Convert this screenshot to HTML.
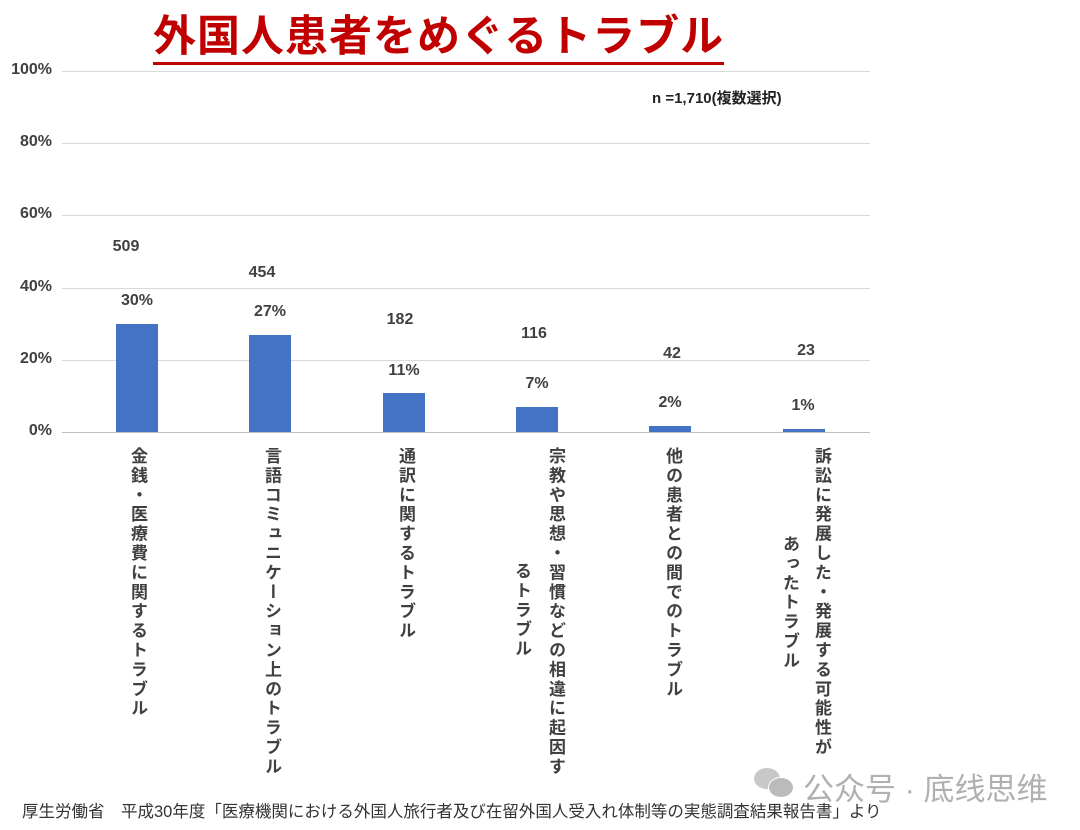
<!DOCTYPE html>
<html><head><meta charset="utf-8"><style>
body{margin:0;width:1080px;height:830px;background:#fff;position:relative;overflow:hidden;font-family:"Liberation Sans","Noto Sans CJK JP",sans-serif;color:#404040}
.a{position:absolute}
.g{position:absolute;left:62px;width:808px;height:1px;background:#d9d9d9}
.y{position:absolute;left:0;width:52px;text-align:right;font-size:16px;font-weight:bold}
.b{position:absolute;width:42px;background:#4472c4}
.n{position:absolute;width:80px;text-align:center;font-size:16px;font-weight:bold}
.v{position:absolute;writing-mode:vertical-rl;font-size:17px;font-weight:bold;letter-spacing:2.4px;line-height:20px;color:#404040}
</style></head><body>
<div class="a" style="left:153px;top:12px;font-size:43px;font-weight:bold;color:#c00000;letter-spacing:1px;border-bottom:3px solid #c00000;line-height:50px;white-space:nowrap">外国人患者をめぐるトラブル</div>
<div class="a" style="left:652px;top:87px;font-size:15px;font-weight:bold;color:#222">n =1,710(複数選択)</div>
<div class="g" style="top:71px"></div><div class="g" style="top:143px"></div><div class="g" style="top:215px"></div><div class="g" style="top:288px"></div><div class="g" style="top:360px"></div><div class="g" style="top:432px;background:#bfbfbf"></div>
<div class="y" style="top:61px">100%</div><div class="y" style="top:133px">80%</div><div class="y" style="top:205px">60%</div><div class="y" style="top:278px">40%</div><div class="y" style="top:350px">20%</div><div class="y" style="top:422px">0%</div>
<div class="b" style="left:116px;top:324px;height:108px"></div>
<div class="b" style="left:249px;top:335px;height:97px"></div>
<div class="b" style="left:383px;top:393px;height:39px"></div>
<div class="b" style="left:516px;top:407px;height:25px"></div>
<div class="b" style="left:649px;top:426px;height:6px"></div>
<div class="b" style="left:783px;top:429px;height:3px"></div>
<div class="n" style="left:86px;top:238px">509</div><div class="n" style="left:97px;top:292px">30%</div>
<div class="n" style="left:222px;top:264px">454</div><div class="n" style="left:230px;top:303px">27%</div>
<div class="n" style="left:360px;top:311px">182</div><div class="n" style="left:364px;top:362px">11%</div>
<div class="n" style="left:494px;top:325px">116</div><div class="n" style="left:497px;top:375px">7%</div>
<div class="n" style="left:632px;top:345px">42</div><div class="n" style="left:630px;top:394px">2%</div>
<div class="n" style="left:766px;top:342px">23</div><div class="n" style="left:763px;top:397px">1%</div>
<div class="v" style="left:127px;top:447px">金銭・医療費に関するトラブル</div>
<div class="v" style="left:261px;top:447px">言語コミュニケーション上のトラブル</div>
<div class="v" style="left:395px;top:447px">通訳に関するトラブル</div>
<div class="v" style="left:545px;top:447px">宗教や思想・習慣などの相違に起因す</div>
<div class="v" style="left:511px;top:562px">るトラブル</div>
<div class="v" style="left:662px;top:447px">他の患者との間でのトラブル</div>
<div class="v" style="left:811px;top:447px">訴訟に発展した・発展する可能性が</div>
<div class="v" style="left:779px;top:535px">あったトラブル</div>
<div class="a" style="left:22px;top:798px;font-size:16.5px;color:#333;white-space:nowrap">厚生労働省　平成30年度「医療機関における外国人旅行者及び在留外国人受入れ体制等の実態調査結果報告書」より</div>
<div class="a" style="left:754px;top:768px;width:26px;height:21px;border-radius:50%;background:#c8c8c8"></div>
<div class="a" style="left:768px;top:777px;width:24px;height:19px;border-radius:50%;background:#bbb;border:1px solid #fff"></div>
<div class="a" style="left:803px;top:764px;font-size:31px;color:#b0b0b0;font-family:'Liberation Sans','Noto Sans CJK SC',sans-serif;white-space:nowrap">公众号 · 底线思维</div>
</body></html>
